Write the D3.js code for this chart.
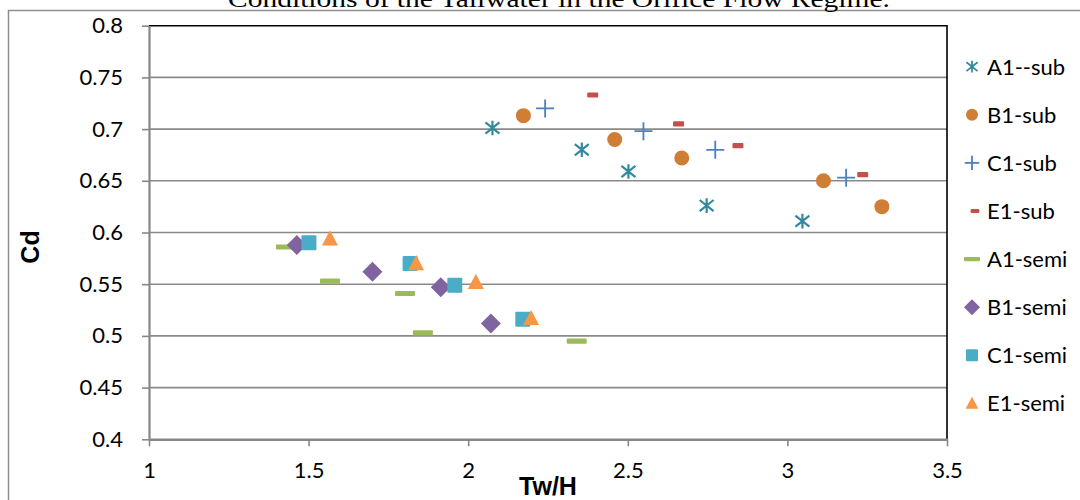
<!DOCTYPE html>
<html>
<head>
<meta charset="utf-8">
<script src="https://cdn.jsdelivr.net/npm/d3@7/dist/d3.min.js"></script>
<style>
  html, body { margin: 0; padding: 0; background: #fff; }
  svg { display: block; }
  text { font-family: Lato, "Open Sans", sans-serif; }
</style>
</head>
<body>
<svg id="chart" width="1080" height="500"></svg>
<script>
// Discharge coefficient Cd against relative tailwater depth Tw/H
const seriesNames = ["A1--sub", "B1-sub", "C1-sub", "E1-sub", "A1-semi", "B1-semi", "C1-semi", "E1-semi"];

const a1SubX = [2.076, 2.356, 2.502, 2.747, 3.047];
const a1SubY = [0.701, 0.680, 0.659, 0.626, 0.611];

const b1SubX = [2.173, 2.459, 2.669, 3.113, 3.296];
const b1SubY = [0.713, 0.690, 0.672, 0.650, 0.625];

const c1SubX = [2.241, 2.549, 2.774, 3.184];
const c1SubY = [0.720, 0.698, 0.680, 0.653];

const e1SubX = [2.390, 2.659, 2.845, 3.236];
const e1SubY = [0.733, 0.705, 0.684, 0.656];

const a1SemiX = [1.429, 1.567, 1.802, 1.858, 2.340];
const a1SemiY = [0.586, 0.553, 0.541, 0.503, 0.495];

const b1SemiX = [1.463, 1.700, 1.914, 2.071];
const b1SemiY = [0.588, 0.562, 0.547, 0.512];

const c1SemiX = [1.501, 1.818, 1.958, 2.171];
const c1SemiY = [0.590, 0.570, 0.549, 0.516];

const e1SemiX = [1.567, 1.837, 2.024, 2.197];
const e1SemiY = [0.594, 0.570, 0.552, 0.517];

const xTicks = [1, 1.5, 2, 2.5, 3, 3.5];
const xTickLabels = ["1", "1.5", "2", "2.5", "3", "3.5"];
const yTicks = [0.4, 0.45, 0.5, 0.55, 0.6, 0.65, 0.7, 0.75, 0.8];
const yTickLabels = ["0.4", "0.45", "0.5", "0.55", "0.6", "0.65", "0.7", "0.75", "0.8"];

const titleText = "Conditions of the Tailwater in the Orifice Flow Regime.";
const xTitle = "Tw/H";
const yTitle = "Cd";

const seriesX = [a1SubX, b1SubX, c1SubX, e1SubX, a1SemiX, b1SemiX, c1SemiX, e1SemiX];
const seriesY = [a1SubY, b1SubY, c1SubY, e1SubY, a1SemiY, b1SemiY, c1SemiY, e1SemiY];

const colors = ["#35899d", "#d07d35", "#4a7fc0", "#c4504c", "#9bbb59", "#8064a2", "#4bacc6", "#f79646"];
const shapes = ["star", "circle", "plus", "dash", "longdash", "diamond", "square", "triangle"];

const svg = d3.select("#chart");

const x = d3.scaleLinear().domain([1, 3.5]).range([149, 947]);
const y = d3.scaleLinear().domain([0.4, 0.8]).range([439.3, 25.7]);

// outer chart frame (top and left edges)
svg.append("path")
  .attr("d", "M1080,10.5 H8.5 V500")
  .attr("fill", "none")
  .attr("stroke", "#8e8e8e")
  .attr("stroke-width", 1.5);

// title, running into the top edge of the page
svg.append("text")
  .attr("x", 559)
  .attr("y", 7)
  .attr("text-anchor", "middle")
  .attr("textLength", 662)
  .attr("lengthAdjust", "spacingAndGlyphs")
  .style("font-family", "'Liberation Serif', 'Times New Roman', serif")
  .style("font-size", "24px")
  .attr("fill", "#000")
  .text(titleText);

// horizontal gridlines
svg.append("g")
  .selectAll("line")
  .data(yTicks.filter(v => v > 0.4 && v < 0.8))
  .join("line")
  .attr("x1", x(1)).attr("x2", x(3.5))
  .attr("y1", d => y(d)).attr("y2", d => y(d))
  .attr("stroke", "#8a8a8a")
  .attr("stroke-width", 1.6);

// plot area border (top and right)
svg.append("path")
  .attr("d", `M${x(1)},${y(0.8)} H${x(3.5)} V${y(0.4)}`)
  .attr("fill", "none")
  .attr("stroke", "#000")
  .attr("stroke-width", 1.6);

// y axis
const yAxis = svg.append("g")
  .attr("transform", `translate(${x(1)},0)`)
  .call(d3.axisLeft(y).tickValues(yTicks)
    .tickFormat((d, i) => yTickLabels[i])
    .tickSize(7).tickPadding(19).tickSizeOuter(0));
yAxis.select(".domain").attr("stroke", "#878787").attr("stroke-width", 2.2);
yAxis.selectAll(".tick line").attr("stroke", "#878787").attr("stroke-width", 1.6);
yAxis.selectAll(".tick text")
  .attr("fill", "#000")
  .style("font-family", "Lato, sans-serif")
  .style("font-size", "22px");

// x axis
const xAxis = svg.append("g")
  .attr("transform", `translate(0,${y(0.4)})`)
  .call(d3.axisBottom(x).tickValues(xTicks)
    .tickFormat((d, i) => xTickLabels[i])
    .tickSize(7).tickPadding(16).tickSizeOuter(0));
xAxis.select(".domain").attr("stroke", "#878787").attr("stroke-width", 2.6);
xAxis.selectAll(".tick line").attr("stroke", "#878787").attr("stroke-width", 1.6);
xAxis.selectAll(".tick text")
  .attr("fill", "#000")
  .style("font-family", "Lato, sans-serif")
  .style("font-size", "22px");

// axis titles
svg.append("text")
  .attr("transform", "translate(30,247) rotate(-90)")
  .attr("text-anchor", "middle")
  .attr("dy", "0.35em")
  .style("font-family", "'Liberation Sans Narrow', 'Liberation Sans', sans-serif")
  .style("font-weight", "bold")
  .style("font-size", "25px")
  .attr("fill", "#000")
  .text(yTitle);

svg.append("text")
  .attr("x", 548)
  .attr("y", 486)
  .attr("text-anchor", "middle")
  .attr("dy", "0.35em")
  .style("font-family", "'Liberation Sans Narrow', 'Liberation Sans', sans-serif")
  .style("font-weight", "bold")
  .style("font-size", "25px")
  .attr("fill", "#000")
  .text(xTitle);

// marker drawing: k scales the glyph size
function drawMarker(g, shape, color, k) {
  switch (shape) {
    case "star": {
      const r = 7.3 * k, dx = 7 * k, dy = 5.6 * k;
      const p = `M0,${-r} V${r} M${-dx},${-dy} L${dx},${dy} M${-dx},${dy} L${dx},${-dy}`;
      g.append("path").attr("d", p).attr("stroke", color).attr("stroke-width", 2.2 * k).attr("fill", "none");
      break;
    }
    case "circle":
      g.append("circle").attr("r", 7.5 * k).attr("fill", color);
      break;
    case "plus": {
      const r = 9 * k;
      g.append("path").attr("d", `M${-r},0 H${r} M0,${-r} V${r}`)
        .attr("stroke", color).attr("stroke-width", 1.8).attr("fill", "none");
      break;
    }
    case "dash":
      g.append("rect").attr("x", -5.5 * k).attr("y", -2.6 * k).attr("width", 11 * k).attr("height", 5.2 * k)
        .attr("rx", 1).attr("fill", color);
      break;
    case "longdash":
      g.append("rect").attr("x", -10 * k).attr("y", -2.6 * k).attr("width", 20 * k).attr("height", 5.2 * k)
        .attr("rx", 1).attr("fill", color);
      break;
    case "diamond": {
      const r = 10 * k;
      g.append("path").attr("d", `M0,${-r} L${r},0 L0,${r} L${-r},0 Z`).attr("fill", color);
      break;
    }
    case "square":
      g.append("rect").attr("x", -7.5 * k).attr("y", -7.5 * k).attr("width", 15 * k).attr("height", 15 * k)
        .attr("rx", 1).attr("fill", color);
      break;
    case "triangle": {
      const r = 8 * k;
      g.append("path").attr("d", `M0,${-r * 1.05} L${r},${r * 0.85} L${-r},${r * 0.85} Z`).attr("fill", color);
      break;
    }
  }
}

// data points, series drawn in legend order
seriesNames.forEach((name, s) => {
  const pts = seriesX[s].map((v, i) => ({ x: v, y: seriesY[s][i] }));
  const g = svg.append("g").attr("class", "series");
  g.selectAll("g")
    .data(pts)
    .join("g")
    .attr("transform", d => `translate(${x(d.x)},${y(d.y)})`)
    .each(function () { drawMarker(d3.select(this), shapes[s], colors[s], 1); });
});

// legend
const legend = svg.append("g");
seriesNames.forEach((name, s) => {
  const row = legend.append("g").attr("transform", `translate(972,${66.7 + s * 48.1})`);
  const mk = row.append("g").attr("transform", shapes[s] === "dash" ? "translate(3,0)" : null);
  drawMarker(mk, shapes[s], colors[s], shapes[s] === "star" ? 0.8 : 0.8);
  row.append("text")
    .attr("x", 15)
    .attr("dy", "0.36em")
    .style("font-family", "Lato, sans-serif")
    .style("font-size", "22px")
    .attr("fill", "#000")
    .text(name);
});
</script>
</body>
</html>
